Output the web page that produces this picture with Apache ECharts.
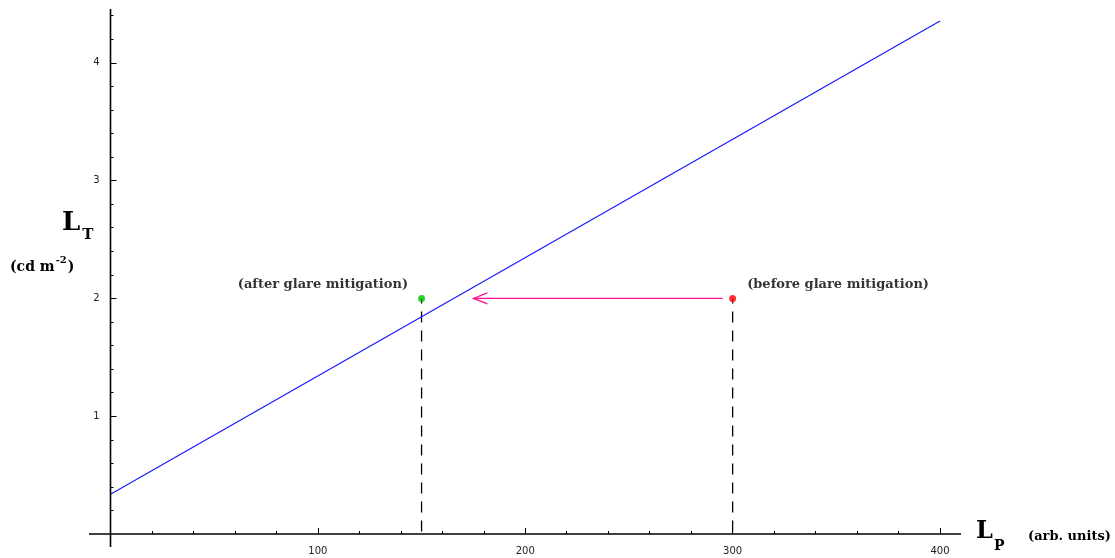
<!DOCTYPE html>
<html><head><meta charset="utf-8">
<script src="https://cdn.jsdelivr.net/npm/echarts@6/dist/echarts.min.js"></script>
<style>html,body{margin:0;padding:0;background:#fff}#c{width:1115px;height:558px}</style>
</head><body><div id="c"></div>
<script>
// ---- data ----
const lineX = [0, 400];
const lineY = [0.337, 4.355];
const afterPoint = [150, 2];
const beforePoint = [300, 2];
const arrowFrom = [300, 2];
const arrowTo = [175, 2];
const xTickLabels = [100, 200, 300, 400];
const yTickLabels = [1, 2, 3, 4];
const yMinorTicks = [0.2, 0.4, 0.6, 0.8, 1.2, 1.4, 1.6, 1.8, 2.2, 2.4, 2.6, 2.8, 3.2, 3.4, 3.6, 3.8, 4.2, 4.4];
const afterLabel = '(after glare mitigation)';
const beforeLabel = '(before glare mitigation)';

// ---- layout ----
const G = { left: 110.5, right: 175, top: 15.7, bottom: 24 };
const X0 = 110.5, Y0 = 534;
const SERIF = '"DejaVu Serif", "Liberation Serif", serif';
const SANS = '"DejaVu Sans", sans-serif';
const MAG = '#ff1090';
const TXT = '#000';

const ctx = document.createElement('canvas').getContext('2d');
function tw(text, font) { ctx.font = font; return ctx.measureText(text).width; }

const chart = echarts.init(document.getElementById('c'), null, { renderer: 'canvas' });

const baseAxis = { axisLine: { show: false }, splitLine: { show: false } };

function piece(text, font, x, y) {
  return { type: 'text', x: x, y: y, style: { text: text, font: font, fill: TXT, verticalAlign: 'middle', align: 'left' } };
}
const fL = 'bold 26px ' + SERIF, fSub = 'bold 15px ' + SERIF;
const fUnit = 'bold 14px ' + SERIF, fSup = 'bold 10px ' + SERIF;
const fArb = 'bold 13px ' + SERIF, fLx = 'bold 24px ' + SERIF, fSubx = 'bold 14px ' + SERIF;

const titles = [];
titles.push(piece('L', fL, 62, 223.5));
titles.push(piece('T', fSub, 62 + tw('L', fL) + 2, 235.5));
let cx = 10;
titles.push(piece('(cd m', fUnit, cx, 267.5)); cx += tw('(cd m', fUnit) + 1;
titles.push(piece('-2', fSup, cx, 260)); cx += tw('-2', fSup) + 1;
titles.push(piece(')', fUnit, cx, 267.5));
titles.push(piece('L', fLx, 976, 532));
titles.push(piece('P', fSubx, 976 + tw('L', fLx) + 1, 546));
titles.push(piece('(arb. units)', fArb, 1028, 536.5));

chart.setOption({
  animation: false,
  backgroundColor: '#fff',
  grid: { left: G.left, right: G.right, top: G.top, bottom: G.bottom, containLabel: false },
  xAxis: [{
    ...baseAxis, type: 'value', min: 0, max: 400, interval: 100,
    axisTick: { show: true, inside: true, length: 6, customValues: xTickLabels, lineStyle: { color: '#000', width: 1 } },
    minorTick: { show: true, splitNumber: 5, length: 3, lineStyle: { color: '#000', width: 1 } },
    axisLabel: { show: true, customValues: xTickLabels, margin: 12, fontFamily: SANS, fontSize: 10, color: '#222' }
  }],
  yAxis: [{
    ...baseAxis, type: 'value', min: 0, max: 4.4, position: 'left',
    axisTick: { show: true, inside: true, length: 6, customValues: yTickLabels, lineStyle: { color: '#000', width: 1 } },
    axisLabel: { show: true, customValues: yTickLabels, margin: 11, fontFamily: SANS, fontSize: 10, color: '#222' }
  }, {
    ...baseAxis, type: 'value', min: 0, max: 4.4, position: 'left', offset: 0,
    axisTick: { show: true, inside: true, length: 3, customValues: yMinorTicks, lineStyle: { color: '#000', width: 1 } },
    axisLabel: { show: false }
  }],
  series: [
    {
      type: 'line', data: lineX.map((x, i) => [x, lineY[i]]), symbol: 'none',
      lineStyle: { color: '#1a1aff', width: 1.2 }, z: 3
    },
    {
      type: 'line', data: [[afterPoint[0], afterPoint[1]], [afterPoint[0], 0]], symbol: 'none',
      lineStyle: { color: '#000', width: 1.3, type: [11, 8], dashOffset: 6 }, z: 2
    },
    {
      type: 'line', data: [[beforePoint[0], beforePoint[1]], [beforePoint[0], 0]], symbol: 'none',
      lineStyle: { color: '#000', width: 1.3, type: [11, 8], dashOffset: 6 }, z: 2
    },
    {
      type: 'custom', z: 4,
      data: [[arrowFrom[0], arrowFrom[1], arrowTo[0], arrowTo[1]]],
      encode: { x: [0, 2], y: [1, 3] },
      renderItem(params, api) {
        const a = api.coord([api.value(0), api.value(1)]);
        const b = api.coord([api.value(2), api.value(3)]);
        const h = 14, w = 5.5;
        return {
          type: 'group', children: [
            { type: 'line', shape: { x1: a[0] - 10, y1: a[1], x2: b[0], y2: b[1] }, style: { stroke: MAG, lineWidth: 1.2 } },
            { type: 'polyline', shape: { points: [[b[0] + h, b[1] - w], [b[0], b[1]], [b[0] + h, b[1] + w]] }, style: { stroke: MAG, fill: null, lineWidth: 1.2 } }
          ]
        };
      }
    },
    {
      type: 'scatter', z: 5, symbolSize: 7,
      data: [
        { value: afterPoint, itemStyle: { color: '#00c000' },
          label: { show: true, formatter: afterLabel, position: 'left', distance: 10, offset: [0, -14] } },
        { value: beforePoint, itemStyle: { color: '#ff0000' },
          label: { show: true, formatter: beforeLabel, position: 'right', distance: 11, offset: [0, -14] } }
      ],
      label: { fontFamily: SERIF, fontWeight: 'bold', fontSize: 13, color: TXT }
    }
  ],
  graphic: [
    { type: 'line', z: 10, shape: { x1: 89, y1: Y0, x2: 961, y2: Y0 }, style: { stroke: '#000', lineWidth: 1.6 } },
    { type: 'line', z: 10, shape: { x1: X0, y1: 9, x2: X0, y2: 547 }, style: { stroke: '#000', lineWidth: 1.6 } },
    ...titles
  ]
});
</script>
</body></html>
